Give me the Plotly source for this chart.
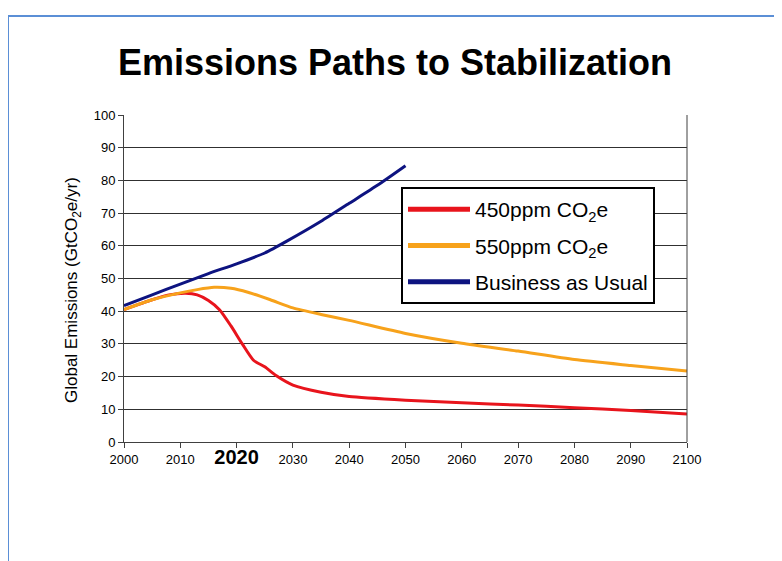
import plotly.graph_objects as go

# ---- data ----
years_bau = [2000, 2005, 2010, 2015, 2020, 2025, 2029, 2035, 2040, 2045, 2050]
bau = [41.7, 45.0, 48.3, 51.5, 54.5, 57.8, 61.5, 67.5, 73.0, 78.5, 84.5]

years_550 = [2000, 2005, 2010, 2013, 2016, 2019, 2022, 2026, 2030, 2035, 2040, 2050, 2060, 2070, 2080, 2090, 2100]
s550 = [40.5, 43.5, 45.6, 46.6, 47.3, 47.0, 45.8, 43.5, 41.0, 39.0, 37.2, 33.2, 30.2, 27.8, 25.2, 23.4, 21.7]

years_450 = [2000, 2005, 2008, 2011, 2013, 2015, 2017, 2019, 2021, 2023, 2025, 2027, 2030, 2035, 2040, 2050, 2060, 2070, 2080, 2090, 2100]
s450 = [40.5, 43.5, 45.0, 45.5, 45.0, 43.3, 40.4, 35.5, 30.0, 25.0, 23.0, 20.3, 17.4, 15.2, 13.9, 12.8, 12.0, 11.3, 10.5, 9.6, 8.6]

tick_vals = [2000, 2010, 2020, 2030, 2040, 2050, 2060, 2070, 2080, 2090, 2100]
tick_text = ["2000", "2010", "<b><span style='font-size:20px'>2020</span></b>", "2030", "2040",
             "2050", "2060", "2070", "2080", "2090", "2100"]

names = ["450ppm CO<sub>2</sub>e", "550ppm CO<sub>2</sub>e", "Business as Usual"]
colors = ["#e8141c", "#f7a21b", "#0d1380"]

fig = go.Figure()
for xs, ys, c in [(years_450, s450, colors[0]), (years_550, s550, colors[1]), (years_bau, bau, colors[2])]:
    fig.add_trace(go.Scatter(x=xs, y=ys, mode="lines", line=dict(color=c, width=3, shape="spline", smoothing=0.6),
                             showlegend=False, hoverinfo="skip"))
# legend-only samples (thicker lines like the reference legend)
for i, (n, c) in enumerate(zip(names, colors)):
    fig.add_trace(go.Scatter(x=[None], y=[None], mode="lines", name=n, legendgroup=str(i),
                             line=dict(color=c, width=5)))

OFF = 8  # page body margin
W, H = 782 - OFF, 561 - OFF
L, R, T, B = 124 - OFF, 687 - OFF, 115 - OFF, 442 - OFF
pw, ph = R - L, B - T

def px(x):
    return (x - OFF - L) / pw

def py(y):
    return (B - (y - OFF)) / ph

fig.update_layout(
    width=W, height=H,
    margin=dict(l=L, r=W - R, t=T, b=H - B, pad=0),
    paper_bgcolor="white", plot_bgcolor="white",
    font=dict(family="Liberation Sans, Arial, sans-serif", color="black"),
    title=dict(text="<b>Emissions Paths to Stabilization</b>", x=0.5, xanchor="center",
               y=1 - (62 - OFF) / H, yanchor="middle", font=dict(size=36, color="black")),
    xaxis=dict(range=[2000, 2100], tickmode="array", tickvals=tick_vals, ticktext=tick_text,
               showgrid=False, zeroline=False, showline=True, linecolor="#404040", linewidth=1,
               mirror=False, ticks="outside", ticklen=5, tickcolor="#404040",
               tickfont=dict(size=13), fixedrange=True),
    yaxis=dict(range=[0, 100], dtick=10, showgrid=True, gridcolor="#303030", gridwidth=1,
               zeroline=False, showline=True, linecolor="#404040", linewidth=1,
               ticks="outside", ticklen=5, tickcolor="#404040", tickfont=dict(size=13),
               fixedrange=True),
    annotations=[
        dict(text="Global Emissions (GtCO<sub>2</sub>e/yr)", textangle=-90, showarrow=False,
             xref="paper", yref="paper", x=px(73), y=py(290), xanchor="center", yanchor="middle",
             font=dict(size=17, color="black")),
    ],
    legend=dict(x=px(401), y=py(187), xanchor="left", yanchor="top",
                bgcolor="white", bordercolor="black", borderwidth=2,
                font=dict(size=21, color="black"), tracegroupgap=6, itemwidth=62),
    shapes=[
        # right border of plot
        dict(type="line", xref="paper", yref="paper", x0=1, x1=1, y0=0, y1=1,
             line=dict(color="#404040", width=1)),
        # blue frame of the slide
        dict(type="line", xref="paper", yref="paper", x0=px(8), x1=px(8), y0=py(16), y1=py(600),
             line=dict(color="#5b8fd6", width=2)),
        dict(type="line", xref="paper", yref="paper", x0=px(8), x1=px(800), y0=py(16), y1=py(16),
             line=dict(color="#5b8fd6", width=2)),
    ],
)

fig.write_html("out.html")
